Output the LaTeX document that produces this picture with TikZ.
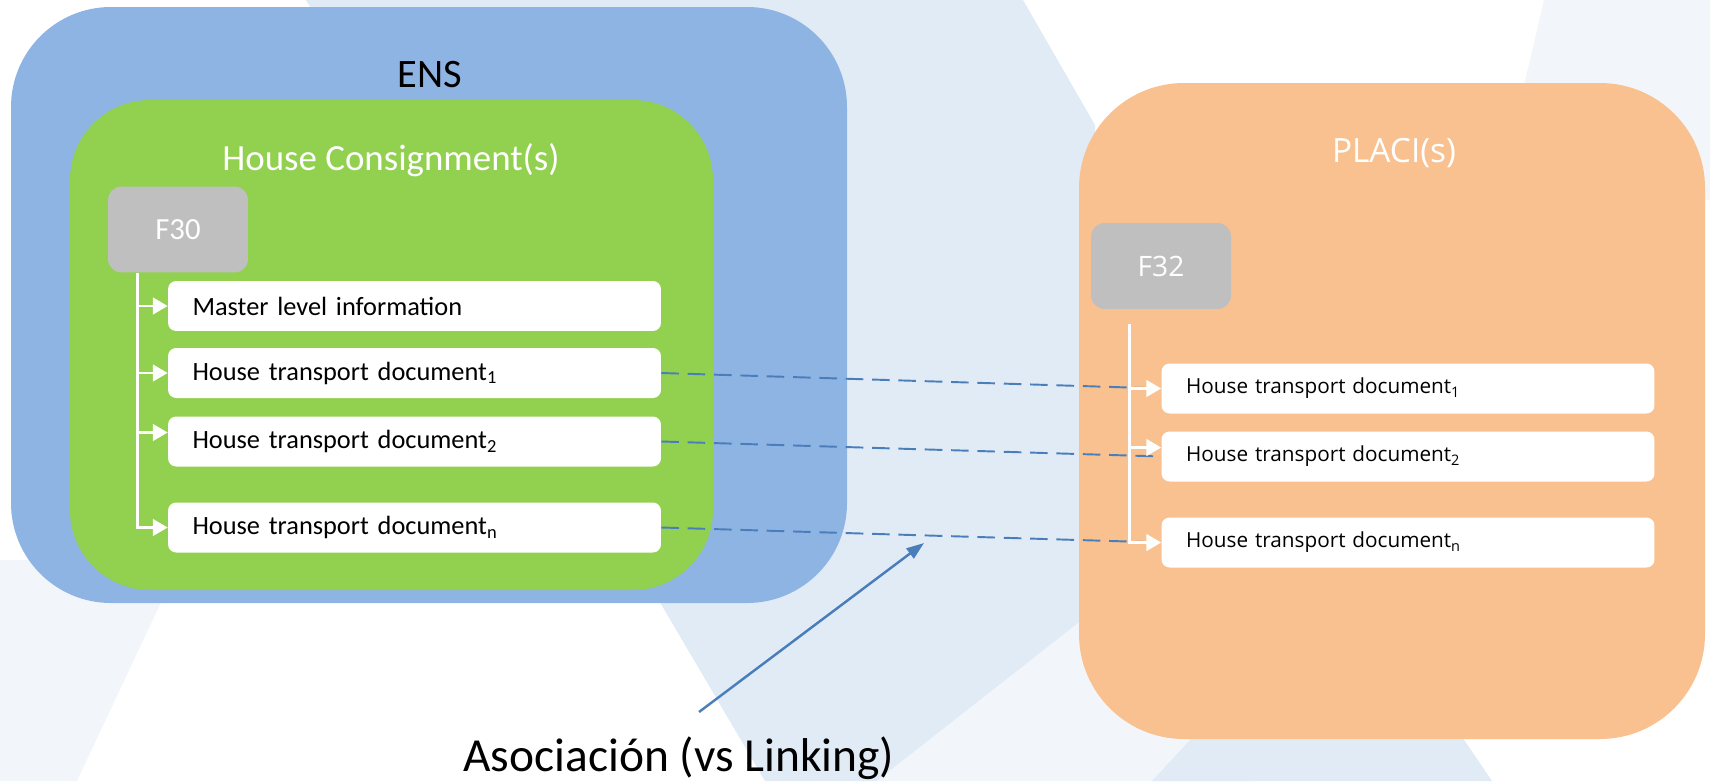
\documentclass[tikz,border=0pt]{standalone}
\usepackage{fontspec}
\setmainfont{Carlito}
\newfontfamily\segoe{Open Sans}
\usetikzlibrary{arrows.meta}

\definecolor{ensblue}{HTML}{8EB4E3}
\definecolor{hcgreen}{HTML}{92D050}
\definecolor{placiorange}{HTML}{F9C190}
\definecolor{formgray}{HTML}{BFBFBF}
\definecolor{linkblue}{HTML}{4A7EBB}
\definecolor{wmblue}{HTML}{E1EBF6}
\definecolor{wmpale}{HTML}{F2F6FB}

\begin{document}
\begin{tikzpicture}[x=0.02cm, y=-0.02cm,
    item/.style={fill=white, rounded corners=0.16cm, minimum height=1cm,
      inner xsep=0.49cm, inner ysep=0pt, text width=8.88cm, align=left,
      font=\fontsize{15}{18}\selectfont},
    ritem/.style={item, font=\segoe\fontsize{11.8}{14}\selectfont},
    form/.style={fill=formgray, rounded corners=0.27cm, minimum width=2.8cm,
      minimum height=1.72cm, text=white},
    branch/.style={white, line width=1.5pt, -{Triangle[length=8.5pt, width=9.5pt]}},
    link/.style={linkblue, line width=1.1pt, dash pattern=on 10pt off 5pt},
    assocline/.style={linkblue, line width=1.4pt, -{Triangle[length=10pt, width=7pt]}},
    title/.style={anchor=base, text=white}]
  \useasboundingbox (0,0) rectangle (1710,781);

  % watermark
  \fill[wmblue] (306,0) -- (1023,0) -- (1095,125) -- (1095,610) -- (877,781) -- (765,781) -- cycle;
  \fill[wmpale] (877,781) -- (1095,610) -- (1250,610) -- (1250,781) -- cycle;
  \fill[wmblue] (1152,781) -- (1227,700) -- (1437,700) -- (1492,781) -- cycle;
  \fill[wmpale] (0,560) -- (181,560) -- (77,781) -- (0,781) -- cycle;
  \fill[wmpale] (1544,0) -- (1710,0) -- (1710,200) -- (1497,200) -- cycle;

  % containers
  \fill[ensblue, rounded corners=2cm] (11,7) rectangle (847,603);
  \node[anchor=base, font=\fontsize{23}{27}\selectfont] (ens) at (430,87) {ENS};
  \fill[hcgreen, rounded corners=1.6cm] (70,100) rectangle (713,590);
  \node[title, font=\fontsize{21}{25}\selectfont] (hc) at (391,170) {House Consignment(s)};
  \fill[placiorange, rounded corners=2.1cm] (1079,83) rectangle (1705,739);
  \node[title, font=\segoe\fontsize{19}{23}\selectfont] (placi) at (1394,162) {PLACI(s)};

  \node[form, font=\fontsize{17.5}{20}\selectfont] (f30) at (178,229.5) {F30};
  \node[item] (master) at (414.5,306) {Master level information};
  \node[item] (lhtd1) at (414.5,373) {House transport document\textsubscript{1}};
  \node[item] (lhtd2) at (414.5,441.5) {House transport document\textsubscript{2}};
  \node[item] (lhtdn) at (414.5,527.5) {House transport document\textsubscript{n}};

  \node[form, font=\segoe\fontsize{16}{19}\selectfont] (f32) at (1161,266) {F32};
  \node[ritem] (rhtd1) at (1408,388.5) {House transport document\textsubscript{1}};
  \node[ritem] (rhtd2) at (1408,456.5) {House transport document\textsubscript{2}};
  \node[ritem] (rhtdn) at (1408,542.5) {House transport document\textsubscript{n}};

  \draw[link] (lhtd1.east) -- (rhtd1.west);
  \draw[link] (lhtd2.east) -- (rhtd2.west);
  \draw[link] (lhtdn.east) -- (rhtdn.west);

  \coordinate (ltrunk) at ([xshift=0.6cm]f30.south west);
  \coordinate (l2in) at ([yshift=0.18cm]lhtd2.west);
  \draw[branch] (ltrunk) |- (lhtdn);
  \draw[branch] (ltrunk |- master) -- (master);
  \draw[branch] (ltrunk |- lhtd1) -- (lhtd1);
  \draw[branch] (ltrunk |- l2in) -- (l2in);

  \coordinate (rtrunk) at ([xshift=0.78cm, yshift=-0.3cm]f32.south west);
  \coordinate (r2in) at ([yshift=0.18cm]rhtd2.west);
  \draw[branch] (rtrunk) |- (rhtdn);
  \draw[branch] (rtrunk |- rhtd1) -- (rhtd1);
  \draw[branch] (rtrunk |- r2in) -- (r2in);

  \node[anchor=base, font=\fontsize{27}{31}\selectfont] (assoc) at (679,771) {Asociación (vs Linking)};
  \coordinate (assoc tail) at (699,712);
  \coordinate (assoc tip) at (924,543);
  \draw[assocline] (assoc tail) -- (assoc tip);
\end{tikzpicture}
\end{document}
